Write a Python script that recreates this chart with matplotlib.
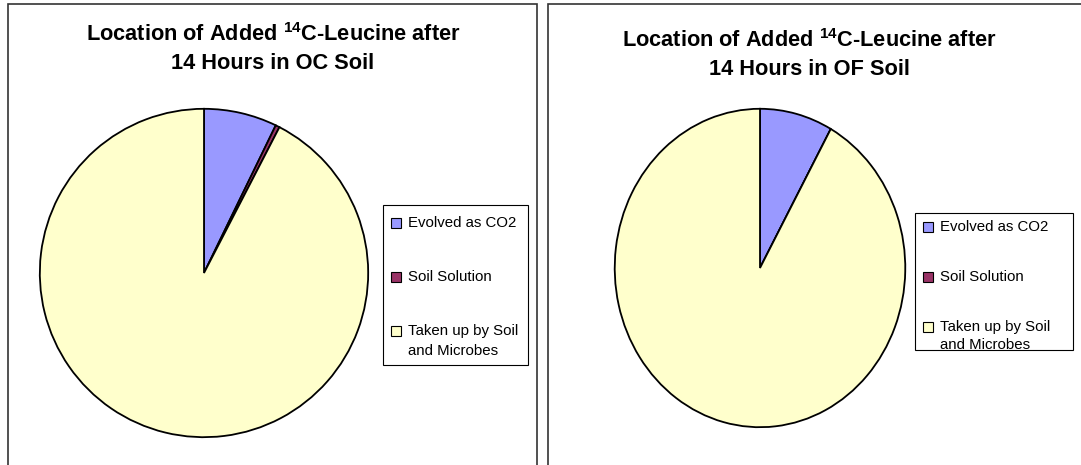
import matplotlib.pyplot as plt
from matplotlib.patches import Rectangle

plt.rcParams['font.family'] = ['Liberation Sans', 'DejaVu Sans']
plt.rcParams['mathtext.default'] = 'regular'

W, H = 1081, 465

# data
labels = ["Evolved as CO2", "Soil Solution", "Taken up by Soil\nand Microbes"]
oc_values = [7.2, 0.4, 92.4]
of_values = [8.1, 0.0, 91.9]
colors = ["#9999FF", "#993366", "#FFFFCC"]
titles = ["Location of Added $^{14}$C-Leucine after\n14 Hours in OC Soil",
          "Location of Added $^{14}$C-Leucine after\n14 Hours in OF Soil"]


def fx(x):
    return x / W


def fy(y):
    return 1 - y / H


def px_axes(x0, y0, x1, y1):
    return fig.add_axes([fx(x0), fy(y1), (x1 - x0) / W, (y1 - y0) / H])


fig = plt.figure(figsize=(W / 100, H / 100), dpi=100)

# panel frames
for x0, x1 in [(8, 537), (548, 1090)]:
    fig.add_artist(Rectangle((fx(x0), fy(480)), (x1 - x0) / W, (480 - 4) / H,
                             transform=fig.transFigure, fill=False,
                             edgecolor="#333333", lw=1.2))

# pies
pies = [(oc_values, (39, 108, 369, 438)), (of_values, (614, 108, 906, 428))]
for vals, box in pies:
    ax = px_axes(*box)
    ax.pie(vals, colors=colors, startangle=90, counterclock=False,
           wedgeprops=dict(edgecolor="black", linewidth=1.3))
    ax.set_aspect('auto')
    ax.set_xlim(-1.005, 1.005)
    ax.set_ylim(-1.005, 1.005)
    ax.axis('off')

# titles
for t, cx, cy in [(titles[0], 273, 48.5), (titles[1], 809, 54.5)]:
    fig.text(fx(cx), fy(cy), t, ha='center', va='center', fontsize=15.7,
             fontweight='bold', linespacing=1.45)

# legends
legends = [((383, 205, 528, 365), [223, 277, 331], 20),
           ((915, 213, 1073, 350), [227, 277, 327], 18)]
for (x0, y0, x1, y1), ys, gap in legends:
    fig.add_artist(Rectangle((fx(x0), fy(y1)), (x1 - x0) / W, (y1 - y0) / H,
                             transform=fig.transFigure, facecolor="white",
                             edgecolor="black", lw=0.8))
    for lab, col, y in zip(labels, colors, ys):
        fig.add_artist(Rectangle((fx(x0 + 8), fy(y + 5)), 10 / W, 10 / H,
                                 transform=fig.transFigure, facecolor=col,
                                 edgecolor="black", lw=0.8))
        for i, line in enumerate(lab.split("\n")):
            fig.text(fx(x0 + 25), fy(y + i * gap), line, ha='left',
                     va='center', fontsize=10.8)

fig.savefig("out.png", dpi=100)
